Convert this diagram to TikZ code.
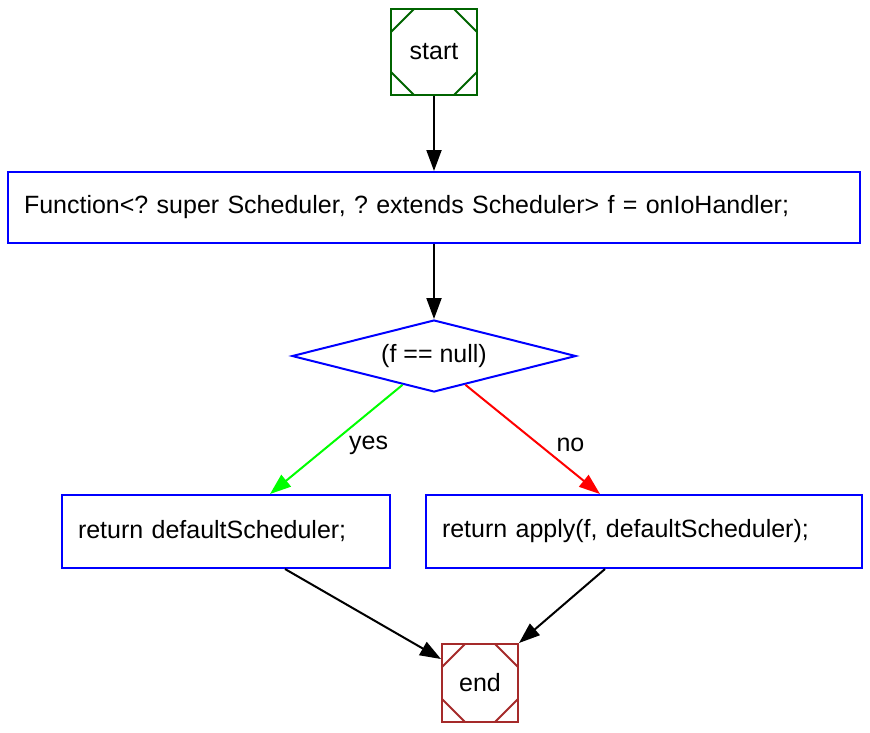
\documentclass[tikz,border=0pt]{standalone}
\usepackage{fontspec}
\setmainfont{Liberation Sans}
\usetikzlibrary{arrows.meta,shapes.geometric,calc}

\definecolor{endbrown}{HTML}{A52A2A}
\definecolor{startgreen}{HTML}{006400}

\tikzset{
    every node/.style={font=\fontsize{25}{29}\selectfont},
    msq/.style={draw=#1, line width=2pt, minimum width=86pt, minimum height=86pt,
        path picture={
            \draw[#1, line width=2pt]
                ([yshift=-23pt]path picture bounding box.north west) -- ++(23pt,23pt)
                ([yshift=-23pt]path picture bounding box.north east) -- ++(-23pt,23pt)
                ([yshift=23pt]path picture bounding box.south west) -- ++(23pt,-23pt)
                ([yshift=23pt]path picture bounding box.south east) -- ++(-23pt,-23pt);
        }},
    stmt/.style={draw=blue, line width=2pt, minimum height=71pt, inner xsep=16pt,
        align=left, text width=#1},
    cond/.style={draw=blue, line width=2pt, diamond, aspect=3.95, minimum width=284pt,
        minimum height=72pt, inner sep=0pt},
    flow/.style={line width=2pt, -{Triangle[length=21pt,width=15pt]}},
}

\begin{document}
\frenchspacing
\begin{tikzpicture}[x=1pt, y=-1pt]
    \useasboundingbox (0,0) rectangle (870,732);
    % nodes
    \node[msq=startgreen] (start) at (434,52) {start};
    \node[stmt=820pt] (assign) at (434,207.5)
        {Function<? super Scheduler, ? extends Scheduler> f = onIoHandler;};
    \node[cond] (test) at (434,356) {(f == null)};
    \node[stmt=296pt, minimum height=73pt] (retdef) at (226,531.5) {return defaultScheduler;};
    \node[stmt=404pt, minimum height=73pt] (retapp) at (644,531.5) {return apply(f, defaultScheduler);};
    \node[msq=endbrown, minimum width=76pt, minimum height=78pt] (end) at (480,683) {end};

    % edges
    \draw[flow] (start) -- (assign);
    \draw[flow] (assign) -- (test);
    \draw[flow, green] ($(test.south)!0.22!(test.west)$) -- ([xshift=44pt]retdef.north)
        node[pos=0.55, xshift=39pt, black] {yes};
    \draw[flow, red] ($(test.south)!0.22!(test.east)$) -- ([xshift=-44pt]retapp.north)
        node[pos=0.55, xshift=31pt, black] {no};
    \draw[flow] ([xshift=59pt]retdef.south) -- ([yshift=-16pt]end.north west);
    \draw[flow] ([xshift=-39pt]retapp.south) -- (end.north east);
\end{tikzpicture}
\end{document}
